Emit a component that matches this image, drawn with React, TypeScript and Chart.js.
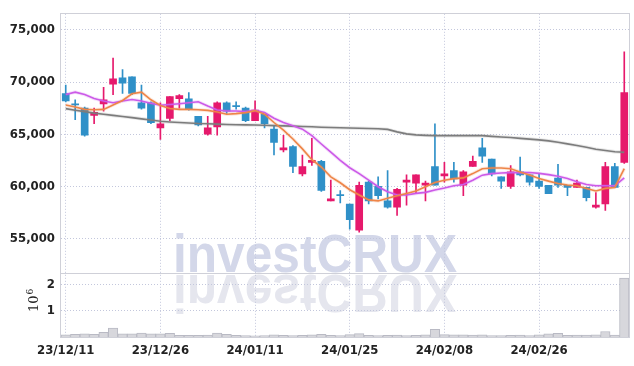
import React, { useEffect, useRef } from 'react';
import { Chart, registerables } from 'chart.js';

Chart.register(...registerables);

const dates = [
  '23/12/11', '23/12/12', '23/12/13', '23/12/14', '23/12/15', '23/12/18', '23/12/19', '23/12/20', '23/12/21', '23/12/22',
  '23/12/26', '23/12/27', '23/12/28', '24/01/02', '24/01/03', '24/01/04', '24/01/05', '24/01/08', '24/01/09', '24/01/10',
  '24/01/11', '24/01/12', '24/01/15', '24/01/16', '24/01/17', '24/01/18', '24/01/19', '24/01/22', '24/01/23', '24/01/24',
  '24/01/25', '24/01/26', '24/01/29', '24/01/30', '24/01/31', '24/02/01', '24/02/02', '24/02/05', '24/02/06', '24/02/07',
  '24/02/08', '24/02/13', '24/02/14', '24/02/15', '24/02/16', '24/02/19', '24/02/20', '24/02/21', '24/02/22', '24/02/23',
  '24/02/26', '24/02/27', '24/02/28', '24/02/29', '24/03/04', '24/03/05', '24/03/06', '24/03/07', '24/03/08', '24/03/11',
];

const opens = [
  68900, 67900, 67500, 66800, 67900, 69800, 70400, 70500, 68000, 68000,
  65600, 66500, 68400, 68400, 66700, 65000, 65700, 68000, 67750, 67500,
  66300, 66900, 65500, 63500, 63800, 61200, 62300, 62400, 58600, 59200,
  58300, 55800, 60400, 60000, 58600, 58000, 60400, 60300, 60100, 61900,
  61000, 61500, 60100, 61900, 63700, 62600, 60900, 60000, 61400, 61100,
  60500, 60100, 60800, 60100, 59900, 59900, 58000, 58300, 61900, 62300,
];
const highs = [
  69700, 68300, 67600, 67500, 69500, 72300, 71200, 70500, 69700, 68100,
  68000, 68600, 68800, 69000, 66700, 66700, 68100, 68100, 68100, 67600,
  68200, 66900, 65800, 64900, 63900, 63000, 64600, 62500, 60600, 59600,
  58300, 60400, 60500, 60900, 61500, 59800, 61100, 61100, 60500, 66000,
  62300, 62300, 61500, 62900, 64600, 62600, 60900, 62000, 62800, 61100,
  61200, 60100, 62100, 60100, 60600, 59900, 59400, 62300, 62200, 72900,
];
const lows = [
  68100, 66400, 64800, 66000, 67200, 68800, 68900, 68800, 67400, 66000,
  64500, 66300, 67500, 67300, 65800, 64900, 64900, 67000, 67400, 66200,
  66300, 65600, 63000, 63300, 61300, 61000, 62000, 59500, 58600, 58400,
  55900, 55600, 58300, 58800, 57900, 57200, 58200, 59400, 58600, 60100,
  60400, 60400, 59100, 61900, 62300, 61000, 59800, 59800, 61000, 60100,
  59800, 59300, 59900, 59100, 59900, 58600, 57900, 57700, 59900, 62200,
];
const closes = [
  68200, 67800, 64900, 67100, 68300, 70300, 69900, 68900, 67500, 66100,
  66000, 68600, 68700, 67400, 65900, 65600, 68000, 67200, 67650, 66300,
  67300, 66000, 64200, 63700, 61900, 61900, 62500, 59600, 58800, 59100,
  56800, 60100, 58600, 59100, 58000, 59700, 60600, 61100, 60300, 60100,
  61200, 60700, 61400, 62400, 62900, 61200, 60500, 61400, 61100, 60400,
  60000, 59300, 60100, 59900, 60300, 58900, 58200, 61900, 59900, 69000,
];

const ma5 = [
  67800, 67610, 67380, 67350, 67380, 67800, 68230, 68870, 69030, 68300,
  67750, 67470, 67380, 67380, 67350, 67280, 67130, 66910, 66970, 67070,
  67260, 66910, 66120, 65390, 64540, 63590, 62550, 61850, 60910, 60340,
  59670, 59170, 58700, 58600, 58850, 59100, 59320, 59550, 59960, 60360,
  60590, 60740, 60810, 61220, 61690, 61760, 61760, 61690, 61380, 61090,
  60740, 60500, 60270, 60120, 60050, 59800, 59550, 59800, 59890, 61690,
];
const ma10 = [
  68800, 69030, 68800, 68420, 68180, 68010, 68180, 68330, 68180, 67970,
  67780, 67850, 67920, 68010, 68110, 67700, 67320, 67230, 67230, 67160,
  67300, 67070, 66530, 66120, 65810, 65480, 64860, 64060, 63270, 62490,
  61780, 61220, 60590, 59960, 59480, 59170, 59170, 59320, 59420, 59640,
  59830, 60050, 60180, 60590, 61070, 61220, 61280, 61310, 61310, 61330,
  61240, 61120, 60970, 60740, 60430, 60180, 60050, 60050, 60050, 60810,
];
const ma60 = [
  67450, 67300, 67160, 67020, 66910, 66800, 66690, 66590, 66470, 66360,
  66240, 66170, 66120, 66070, 66020, 66000, 65960, 65930, 65910, 65890,
  65880, 65850, 65820, 65800, 65770, 65740, 65710, 65670, 65640, 65620,
  65590, 65570, 65550, 65520, 65460, 65220, 65030, 64930, 64890, 64860,
  64860, 64860, 64860, 64860, 64860, 64790, 64730, 64680, 64600, 64530,
  64450, 64360, 64220, 64070, 63910, 63750, 63560, 63430, 63320, 63270,
];

// volume in units of 10^6
const volumes = [
  0.08, 0.1, 0.12, 0.1, 0.18, 0.34, 0.12, 0.12, 0.15, 0.12,
  0.12, 0.14, 0.06, 0.06, 0.06, 0.07, 0.15, 0.1, 0.06, 0.05,
  0.04, 0.05, 0.08, 0.06, 0.05, 0.06, 0.08, 0.1, 0.06, 0.05,
  0.09, 0.13, 0.06, 0.05, 0.06, 0.07, 0.05, 0.06, 0.08, 0.29,
  0.09, 0.08, 0.08, 0.07, 0.08, 0.05, 0.05, 0.06, 0.07, 0.05,
  0.08, 0.12, 0.14, 0.06, 0.07, 0.07, 0.08, 0.21, 0.07, 2.24,
];

const priceTicks = [55000, 60000, 65000, 70000, 75000];
const volumeTicks = [1, 2];
const labelIndices = [0, 10, 20, 30, 40, 50];
const watermarkText = 'investCRUX';
const volumeUnitBase = '10';
const volumeUnitExp = '6';

const UP = '#e6196c';
const DOWN = '#2f90c8';
const GRID = '#c3c7dc';
const FRAME = '#cfd0d8';
const TEXT = '#222222';
const TICK_FONT = { family: '"DejaVu Sans Condensed", "DejaVu Sans", sans-serif', size: 13, weight: 'bold' as const };

const framePlugin = {
  id: 'frame',
  beforeDraw(chart: any) {
    const { ctx } = chart;
    const ys = chart.scales.y;
    ctx.save();
    ctx.font = 'bold 53px "Liberation Sans", Arial, sans-serif';
    const w = ctx.measureText(watermarkText).width;
    const sx = 284 / w;
    ctx.translate(173, ys.bottom - 1);
    ctx.scale(sx, 1);
    ctx.fillStyle = '#d3d7e9';
    ctx.fillText(watermarkText, 0, 0);
    ctx.scale(1, -1);
    ctx.translate(0, -3);
    ctx.fillStyle = '#e5e6ee';
    ctx.fillText(watermarkText, 0, 0);
    ctx.restore();
  },
  afterDraw(chart: any) {
    const { ctx, chartArea } = chart;
    const ys = chart.scales.y;
    ctx.save();
    ctx.strokeStyle = FRAME;
    ctx.lineWidth = 1;
    const l = Math.round(chartArea.left) - 0.5;
    const r = Math.round(chartArea.right) + 0.5;
    const t = Math.round(chartArea.top) - 0.5;
    const b = Math.round(chartArea.bottom) + 0.5;
    ctx.strokeRect(l, t, r - l, b - t);
    const sy = Math.round(ys.bottom) + 0.5;
    ctx.beginPath();
    ctx.moveTo(l, sy);
    ctx.lineTo(r, sy);
    ctx.stroke();

    // volume unit label
    ctx.fillStyle = TEXT;
    ctx.translate(37.5, 312);
    ctx.rotate(-Math.PI / 2);
    ctx.textBaseline = 'alphabetic';
    ctx.textAlign = 'left';
    ctx.font = '13px "DejaVu Serif", serif';
    ctx.fillText(volumeUnitBase, 0, 0);
    const bw = ctx.measureText(volumeUnitBase).width;
    ctx.font = '9px "DejaVu Serif", serif';
    ctx.fillText(volumeUnitExp, bw + 1, -5);
    ctx.restore();
  },
};

export default function App() {
  const ref = useRef<HTMLCanvasElement | null>(null);

  useEffect(() => {
    document.body.style.margin = '0';
    const canvas = ref.current;
    if (!canvas) return;
    const colors = closes.map((c, i) => (c >= opens[i] ? UP : DOWN));
    const lineDs = (label: string, data: number[], color: string, width: number, order: number) => ({
      type: 'line' as const,
      label,
      data,
      borderColor: color,
      borderWidth: width,
      pointRadius: 0,
      tension: 0,
      fill: false,
      yAxisID: 'y',
      order,
    });
    const chart = new Chart(canvas, {
      type: 'bar',
      data: {
        labels: dates,
        datasets: [
          lineDs('MA60 halo', ma60, 'rgba(120,120,120,0.18)', 3.5, 7),
          lineDs('MA10 halo', ma10, 'rgba(204,90,232,0.18)', 3.5, 7),
          lineDs('MA5 halo', ma5, 'rgba(240,132,74,0.18)', 3.5, 7),
          lineDs('MA60', ma60, '#7c7c7c', 1.6, 6),
          lineDs('MA10', ma10, '#cc5ae8', 1.6, 5),
          lineDs('MA5', ma5, '#ee8548', 1.6, 4),
          {
            type: 'bar' as const,
            label: 'wick',
            data: lows.map((l, i) => [l, highs[i]]),
            backgroundColor: colors,
            barThickness: 1,
            grouped: false,
            yAxisID: 'y',
            order: 9,
          },
          {
            type: 'bar' as const,
            label: 'body',
            data: opens.map((o, i) => [o, closes[i]]),
            backgroundColor: colors,
            barThickness: 7,
            grouped: false,
            yAxisID: 'y',
            order: 8,
          },
          {
            type: 'bar' as const,
            label: 'volume',
            data: volumes,
            backgroundColor: '#d7d7dc',
            borderColor: '#b9bac4',
            borderWidth: 1,
            barPercentage: 1,
            categoryPercentage: 1,
            grouped: false,
            yAxisID: 'yv',
            order: 10,
          },
        ] as any,
      },
      options: {
        animation: false,
        responsive: false,
        maintainAspectRatio: false,
        layout: { padding: { top: 10, right: 5, left: 0, bottom: 0 } },
        plugins: { legend: { display: false }, tooltip: { enabled: false } },
        scales: {
          x: {
            type: 'category',
            offset: true,
            grid: { offset: false, color: GRID, drawTicks: false },
            border: { display: false, dash: [1, 2] },
            ticks: { autoSkip: false, maxRotation: 0, minRotation: 0, padding: 6, color: TEXT, font: TICK_FONT },
            afterBuildTicks: (s: any) => {
              s.ticks = labelIndices.map((v) => ({ value: v }));
            },
            afterFit: (s: any) => {
              s.height = 29;
            },
          },
          y: {
            type: 'linear',
            position: 'left',
            stack: 'panels',
            stackWeight: 262,
            weight: 2,
            min: 51710,
            max: 76545,
            grid: { color: GRID, drawTicks: false },
            border: { display: false, dash: [1, 2] },
            ticks: {
              padding: 6,
              color: TEXT,
              font: TICK_FONT,
              callback: (v: any) => Number(v).toLocaleString('en-US'),
            },
            afterBuildTicks: (s: any) => {
              s.ticks = priceTicks.map((v) => ({ value: v }));
            },
            afterFit: (s: any) => {
              s.width = 61;
            },
          },
          yv: {
            type: 'linear',
            position: 'left',
            stack: 'panels',
            stackWeight: 65,
            weight: 1,
            min: 0,
            max: 2.44,
            offset: false,
            grid: { color: GRID, drawTicks: false },
            border: { display: false, dash: [1, 2] },
            ticks: { padding: 6, color: TEXT, font: TICK_FONT, callback: (v: any) => String(v) },
            afterBuildTicks: (s: any) => {
              s.ticks = volumeTicks.map((v) => ({ value: v }));
            },
            afterFit: (s: any) => {
              s.width = 61;
            },
          },
        } as any,
      },
      plugins: [framePlugin],
    });
    return () => chart.destroy();
  }, []);

  return (
    <div style={{ width: 634, height: 366, background: '#fff' }}>
      <canvas ref={ref} width={634} height={366} style={{ display: 'block' }} />
    </div>
  );
}
